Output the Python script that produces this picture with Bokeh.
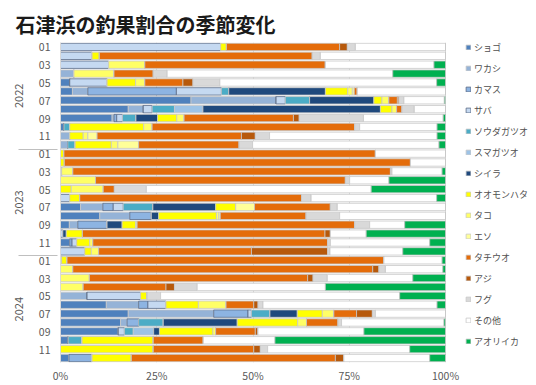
from bokeh.plotting import figure
from bokeh.models import (ColumnDataSource, FactorRange, Legend, LegendItem,
                          NumeralTickFormatter, FixedTicker, Range1d)
from bokeh.embed import file_html
from bokeh.resources import INLINE

TITLE = "石津浜の釣果割合の季節変化"
years = ["2022", "2023", "2024"]
# tick labels: only odd months shown (even months get distinct blank labels)
month_labels = ["01", " ", "03", "  ", "05", "   ", "07", "    ", "09", "     ", "11", "      "]
x_ticks = [0, 0.25, 0.5, 0.75, 1.0]

categories = ["ショゴ", "ワカシ", "カマス", "サバ", "ソウダガツオ", "スマガツオ", "シイラ",
              "オオモンハタ", "タコ", "エソ", "タチウオ", "アジ", "フグ", "その他", "アオリイカ"]

# values in %, 2022-01 ... 2024-12
shogo = [0, 0, 0, 0, 2.4, 3.1, 33.9, 17.6, 13.4, 0.9, 0, 0,
         0, 0, 0.3, 0, 0, 0, 5.2, 10.2, 2.3, 0, 2.4, 0,
         0.3, 0, 0, 0, 0, 11.9, 17.6, 15.6, 15.0, 2.0, 0, 2.2]
wakashi = [0, 0, 0, 3.5, 0, 4.0, 22.1, 3.9, 0.5, 0, 2.4, 1.9,
           0, 0, 0, 0, 0, 0, 5.8, 7.8, 2.2, 0, 0, 0,
           0, 0, 0, 0, 6.9, 8.4, 22.2, 1.7, 0, 0, 0, 0]
kamasu = [0, 0, 0, 0, 0, 23.0, 0, 0, 0.7, 0, 0, 0,
          0, 0, 0, 0, 0, 0, 2.7, 5.6, 7.6, 0, 0.6, 0,
          0, 0, 0, 0, 0, 2.4, 8.9, 3.0, 0, 0, 0, 6.0]
saba = [41.6, 8.2, 12.5, 0, 9.7, 11.7, 2.4, 2.3, 1.5, 0, 0, 0,
        0, 0, 0, 0, 0, 2.4, 2.6, 0, 0, 0.6, 1.2, 6.3,
        0, 0, 0, 0, 13.9, 4.7, 0.9, 0, 1.6, 0, 0, 0]
souda = [0, 0, 0, 0, 0, 1.9, 6.3, 5.8, 3.5, 1.5, 0, 1.9,
         0, 0, 0, 0, 0, 0, 7.7, 0, 0, 0, 0, 0,
         0, 0, 0, 0, 0, 0, 4.8, 6.4, 2.3, 3.6, 0, 0]
suma = [0, 0, 0, 0, 0, 0, 0, 7.4, 0, 0, 0, 0,
        0, 0, 0, 0, 0, 0, 0, 0, 0, 0, 0, 0,
        0, 0, 0, 0, 0, 0, 0, 0, 5.3, 0, 0, 0]
shiira = [0, 0, 0, 0, 0, 25.1, 16.7, 46.1, 5.6, 0, 0, 0,
          0, 0, 0, 0, 0, 0, 16.3, 1.9, 3.9, 0.9, 0, 0,
          0, 0, 0, 0, 0, 0, 7.1, 19.2, 1.5, 0, 0, 0]
oomonhata = [1.5, 1.9, 0, 0, 7.4, 5.8, 2.1, 3.0, 5.0, 19.2, 3.5, 9.4,
             0.9, 1.0, 0, 0, 2.8, 2.6, 5.2, 15.0, 3.5, 4.2, 3.4, 1.7,
             1.4, 0, 0, 0, 1.7, 8.4, 6.5, 15.7, 13.9, 18.5, 24.1, 10.2]
tako = [0, 0, 9.4, 10.4, 2.4, 1.2, 1.8, 1.2, 1.9, 2.2, 1.2, 1.7,
        0, 0, 2.9, 9.1, 8.3, 0, 0, 0.6, 0.4, 0, 0.8, 1.9,
        0, 3.2, 7.5, 5.9, 0, 7.2, 3.0, 2.3, 0.7, 0, 0, 0]
eso = [0, 0, 0, 0, 0, 0.5, 0, 0, 0, 0, 2.4, 5.4,
       0, 0, 0, 0, 0, 0, 4.9, 0.4, 0, 0, 0, 0,
       0, 0, 0, 0, 0, 0, 0, 0, 0, 0, 0, 0]
tachiuo = [29.4, 55.3, 46.9, 10.2, 9.9, 0.8, 2.2, 1.4, 28.4, 52.6, 37.5, 26.1,
           80.9, 89.9, 82.5, 64.9, 2.9, 57.6, 19.7, 22.3, 56.5, 63.0, 61.0, 39.7,
           82.3, 77.9, 56.7, 21.5, 0, 7.2, 5.9, 8.2, 10.3, 13.0, 26.1, 53.0]
aji = [2.0, 0, 0, 0, 2.6, 0, 0.4, 0, 1.5, 0, 3.6, 0,
       0, 0, 0, 0, 0, 0, 0, 0, 0, 1.4, 0, 19.8,
       0, 1.6, 1.4, 2.2, 0, 1.1, 4.1, 0, 0.7, 0, 1.7, 2.2]
fugu = [2.1, 2.1, 0, 3.6, 7.0, 0, 1.3, 3.2, 16.7, 1.3, 3.7, 3.5,
        0, 0, 0.4, 1.1, 8.3, 2.5, 1.8, 8.7, 3.9, 0, 0.7, 0.6,
        0, 1.7, 3.7, 5.9, 3.5, 1.3, 0.8, 0.9, 0, 0, 1.9, 0]
sonota = [23.4, 32.5, 28.2, 58.6, 56.3, 22.9, 10.5, 8.1, 20.7, 20.1, 43.5, 48.4,
          18.2, 9.1, 13.0, 10.2, 58.4, 32.6, 28.1, 27.5, 9.1, 9.3, 25.8, 18.9,
          15.1, 14.9, 22.2, 33.3, 62.1, 45.2, 18.2, 26.6, 27.5, 18.6, 36.9, 22.3]
aoriika = [0, 0, 3.0, 13.7, 2.3, 0, 0.3, 0, 0.6, 2.2, 2.2, 1.7,
           0, 0, 0.9, 14.7, 19.3, 2.3, 0, 0, 10.6, 20.6, 4.1, 11.1,
           0.9, 0.7, 8.5, 31.2, 11.9, 2.2, 0, 0.4, 21.2, 44.3, 9.3, 4.1]

series = [shogo, wakashi, kamasu, saba, souda, suma, shiira, oomonhata,
          tako, eso, tachiuo, aji, fugu, sonota, aoriika]

fill_colors = ["#4F81BD", "#95B3D7", "#8DB4E2", "#C5D9F1", "#4BACC6", "#9DC3E6", "#1F497D",
               "#FFFF00", "#FFFF66", "#FFFF99", "#E46C0A", "#B7590B", "#D9D9D9", "#FFFFFF", "#00B050"]
line_colors = ["#C8C8C8", "#C8C8C8", "#5A6B86", "#5A6B86", "#C8C8C8", "#C8C8C8", "#C8C8C8",
               "#C8C8C8", "#C8C8C8", "#C8C8C8", "#C8C8C8", "#C8C8C8", "#C8C8C8", "#C8C8C8", "#C8C8C8"]

factors = [(y, m) for y in years for m in month_labels]
n = len(factors)
totals = [sum(s[i] for s in series) for i in range(n)]
data = {"y": factors}
for cat, s in zip(categories, series):
    data[cat] = [s[i] / totals[i] for i in range(n)]
source = ColumnDataSource(data)

FONT = "Noto Sans CJK JP"
W, H = 536, 385
LEFT, BAR_W = 60, 385          # frame left edge and pixel width of the 0..100% span
y_range = FactorRange(*list(reversed(factors)), group_padding=0, factor_padding=0, range_padding=0)
# the frame extends to the right edge so that the legend can sit beside the bars
x_range = Range1d(0, (W - LEFT) / BAR_W)

p = figure(width=W, height=H, y_range=y_range, x_range=x_range,
           output_backend="svg", toolbar_location=None, title=TITLE,
           min_border_left=LEFT, min_border_right=0, min_border_top=42, min_border_bottom=22)
p.outline_line_color = None
p.background_fill_color = "white"

p.title.text_font = FONT
p.title.text_font_size = "20px"
p.title.text_font_style = "bold"
p.title.text_color = "#1A1A1A"
p.title.offset = -45
p.title.standoff = 8

renderers = p.hbar_stack(categories, y="y", height=0.83, fill_color=fill_colors,
                         line_color=line_colors, line_width=0.8, source=source)

ticker = FixedTicker(ticks=x_ticks)
xa = p.xaxis[0]
xa.ticker = ticker
xa.formatter = NumeralTickFormatter(format="0%")
xa.axis_line_color = None
xa.major_tick_line_color = None
xa.minor_tick_line_color = None
xa.major_tick_out = 0
xa.major_tick_in = 0
xa.major_label_text_font = FONT
xa.major_label_text_font_size = "10.5px"
xa.major_label_text_color = "#595959"
xa.major_label_standoff = 5

p.xgrid.ticker = ticker
p.xgrid.grid_line_color = "#D9D9D9"
p.ygrid.grid_line_color = None

ya = p.yaxis[0]
ya.axis_line_color = "#D9D9D9"
ya.major_tick_line_color = None
ya.minor_tick_line_color = None
ya.major_tick_out = 0
ya.major_tick_in = 0
ya.major_label_text_font = FONT
ya.major_label_text_font_size = "10.5px"
ya.major_label_text_color = "#595959"
ya.major_label_standoff = 10
ya.group_text_font = FONT
ya.group_text_font_size = "11px"
ya.group_text_font_style = "normal"
ya.group_text_color = "#595959"
ya.separator_line_color = "#BFBFBF"
ya.separator_line_width = 1

legend = Legend(items=[LegendItem(label=c, renderers=[r]) for c, r in zip(categories, renderers)],
                location=(BAR_W + 20, 14), orientation="vertical",
                glyph_width=6, glyph_height=6, label_standoff=3,
                label_height=14, spacing=7, padding=0, margin=0,
                border_line_color=None, background_fill_alpha=0,
                label_text_font=FONT, label_text_font_size="9px", label_text_color="#505050")
p.add_layout(legend, "center")

open("out.html", "w").write(file_html(p, INLINE))
